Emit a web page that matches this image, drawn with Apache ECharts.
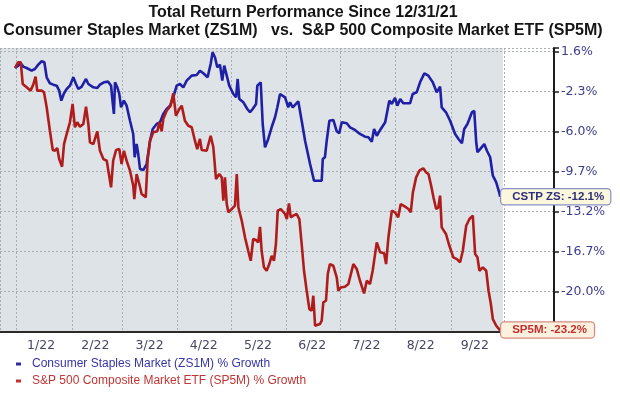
<!DOCTYPE html>
<html><head><meta charset="utf-8">
<script src="https://cdn.jsdelivr.net/npm/echarts@6/dist/echarts.min.js"></script>
<style>html,body{margin:0;padding:0;background:#fff}#c{width:620px;height:393px}</style>
</head><body><div id="c"></div>
<script>
const titleLines = ['Total Return Performance Since 12/31/21', 'Consumer Staples Market (ZS1M)   vs.  S&P 500 Composite Market ETF (SP5M)'];
const monthLabels = ['1/22','2/22','3/22','4/22','5/22','6/22','7/22','8/22','9/22'];
const yTickValues = [1.6,-2.0,-5.6,-9.2,-12.8,-16.4,-20.0];
const yTickLabels = ['1.6%','-2.3%','-6.0%','-9.7%','-13.2%','-16.7%','-20.0%'];
const seriesNames = ['Consumer Staples Market (ZS1M) % Growth','S&P 500 Composite Market ETF (SP5M) % Growth'];
const endLabels = ['CSTP ZS: -12.1%','SP5M: -23.2%'];
// days since 12/31/21
const blueDays = [0.2,2.0,3.4,4.8,6.7,9.5,11.3,13.2,15.1,16.6,17.9,18.8,19.7,21.6,23.5,24.9,26.1,27.6,29.1,30.9,32.8,34.3,35.6,37.5,39.9,41.2,44.0,46.2,47.7,49.9,52.3,53.9,54.8,55.5,56.1,57.4,58.5,59.5,61.1,62.6,64.5,66.3,67.1,68.2,69.1,70.1,71.9,73.8,75.7,77.2,79.4,81.3,83.1,85.0,86.9,88.7,90.6,92.4,94.3,96.2,99.0,101.8,103.6,105.5,107.9,109.6,110.7,112.0,113.3,114.8,116.1,117.2,118.6,120.0,122.3,123.8,124.7,125.6,127.9,130.1,131.6,133.1,135.0,135.7,137.6,138.7,140.0,141.8,143.7,145.6,146.9,148.4,151.2,153.0,154.0,155.5,158.6,160.5,162.4,165.2,166.1,167.4,171.7,172.3,173.5,174.5,176.0,178.2,180.1,181.5,182.9,185.7,187.5,190.3,193.1,195.9,197.8,199.7,201.0,202.5,204.4,207.2,209.5,210.9,212.7,214.0,215.6,217.3,221.1,222.6,224.8,226.7,229.1,231.3,233.8,236.0,237.9,238.8,241.2,243.5,246.3,248.2,250.1,251.4,253.2,255.7,257.0,258.1,258.8,260.3,262.6,264.1,265.9,267.4,269.3,271.1,271.5];
const blueVals = [0.13,0.34,0.55,0.25,0.13,-0.11,0.04,0.43,0.74,0.65,-0.71,-0.56,-1.25,-1.37,-1.46,-1.91,-2.81,-2.15,-1.76,-1.46,-0.71,-1.31,-1.76,-1.55,-0.86,-1.31,-1.61,-1.67,-1.37,-1.16,-1.10,-1.46,-2.96,-4.01,-1.16,-1.61,-2.21,-3.41,-2.81,-3.26,-4.62,-5.81,-7.91,-6.72,-7.62,-8.97,-9.06,-8.52,-6.42,-5.36,-4.91,-4.76,-4.01,-3.56,-3.26,-2.51,-1.46,-1.31,-1.61,-1.01,-0.56,-0.50,-0.11,-0.35,-0.71,0.49,1.55,1.10,0.19,0.43,-1.01,0.34,-0.56,-1.46,-2.21,-2.51,-0.86,-2.66,-2.96,-3.56,-3.86,-3.56,-3.11,-1.46,-1.16,-4.91,-7.01,-6.26,-5.21,-4.31,-3.41,-2.21,-2.51,-3.41,-2.96,-3.41,-2.87,-4.62,-6.42,-8.52,-9.12,-10.02,-10.02,-8.07,-7.91,-6.42,-4.62,-4.55,-5.57,-5.75,-4.76,-4.85,-5.21,-5.45,-5.81,-6.06,-6.11,-6.51,-5.36,-5.97,-5.45,-4.76,-2.81,-3.11,-2.57,-3.26,-2.66,-3.05,-3.05,-2.21,-2.06,-1.16,-0.35,-0.56,-1.16,-2.06,-1.55,-3.41,-3.86,-4.62,-5.81,-6.26,-6.65,-5.36,-4.91,-3.86,-3.72,-6.56,-7.46,-7.17,-6.72,-7.32,-7.91,-9.57,-10.17,-11.16,-11.46];
const redDays = [0.2,2.0,3.4,4.5,6.7,8.9,10.4,11.7,12.6,15.1,16.4,17.9,19.7,21.3,22.5,23.8,24.9,26.5,27.6,29.1,30.9,32.4,33.7,35.0,36.5,38.4,39.9,41.2,42.1,44.0,46.2,47.7,49.6,51.5,52.7,53.9,55.1,56.7,58.5,59.8,61.1,62.6,64.5,66.3,66.9,68.2,69.7,71.0,73.3,74.4,75.7,77.5,79.8,80.9,82.2,83.1,85.0,87.2,88.7,90.2,92.1,93.4,95.2,97.1,99.0,100.8,102.1,103.6,104.6,107.4,108.3,109.6,111.1,112.6,114.4,115.8,116.7,117.6,118.6,119.5,121.4,123.2,124.2,125.1,127.0,128.8,130.6,132.0,133.4,134.9,136.2,137.2,138.1,139.4,140.9,142.4,143.7,145.0,146.1,147.1,148.8,151.2,152.2,153.4,154.4,155.8,157.7,159.2,160.5,161.8,163.3,164.8,166.1,167.0,168.0,170.7,171.7,172.6,174.1,175.1,176.3,178.2,180.1,181.0,182.3,184.7,186.6,189.4,191.3,193.1,195.4,196.9,198.7,200.2,202.5,204.4,206.6,207.7,209.0,210.9,212.7,214.5,215.9,218.3,220.2,221.5,222.7,224.5,226.3,228.5,230.0,231.4,232.7,234.2,235.7,236.9,237.9,238.8,241.2,243.1,245.3,247.3,249.1,250.6,252.5,254.3,256.2,257.5,258.8,259.9,261.8,263.7,265.0,266.3,267.4,269.3,271.1,271.5];
const redVals = [0.13,0.65,0.65,-1.31,-1.61,-1.91,-1.37,-0.65,-1.91,-1.91,-2.06,-3.41,-5.52,-7.26,-7.32,-7.08,-8.07,-8.76,-6.72,-5.81,-4.76,-3.11,-5.21,-4.76,-5.16,-4.91,-3.35,-4.91,-6.56,-6.72,-5.57,-7.32,-8.07,-8.22,-9.42,-10.62,-8.22,-7.26,-7.17,-8.52,-7.32,-8.22,-9.12,-10.47,-11.67,-9.42,-10.32,-11.22,-11.52,-8.07,-6.42,-5.66,-5.57,-4.76,-5.57,-4.46,-3.72,-3.26,-2.15,-4.17,-3.56,-3.26,-4.62,-5.07,-5.21,-6.42,-7.17,-6.26,-7.26,-7.32,-7.26,-5.97,-7.01,-9.87,-9.42,-9.72,-11.82,-9.72,-12.12,-12.87,-12.57,-12.27,-9.42,-12.42,-13.63,-15.12,-16.33,-17.23,-15.27,-15.36,-15.57,-14.17,-16.33,-17.82,-18.13,-17.53,-16.78,-17.23,-15.72,-12.72,-12.57,-13.02,-13.47,-12.06,-13.32,-13.17,-13.02,-13.47,-15.72,-18.13,-19.93,-21.58,-21.73,-20.38,-23.08,-22.93,-22.63,-20.98,-20.83,-18.43,-17.53,-17.68,-18.72,-19.93,-19.63,-19.57,-19.33,-17.53,-17.98,-19.03,-20.17,-19.03,-19.33,-18.13,-15.57,-16.47,-16.56,-17.53,-15.12,-12.72,-12.87,-13.32,-12.12,-12.36,-12.57,-12.87,-11.07,-9.72,-9.12,-8.90,-9.26,-9.42,-10.32,-11.52,-12.57,-12.42,-11.37,-14.22,-14.82,-15.88,-16.92,-17.08,-17.37,-16.33,-14.08,-13.47,-13.17,-16.63,-16.92,-18.13,-17.82,-18.13,-19.93,-21.13,-22.48,-23.08,-23.43,-23.47];

const DAY = 86400000;
const base = new Date(2021, 11, 31).getTime();
const toT = d => base + Math.round(d * DAY);
const xMin = toT(-8.2), xMax = toT(301.6), shadeEnd = toT(273);

const chart = echarts.init(document.getElementById('c'), null, {renderer: 'canvas'});
chart.setOption({
  animation: false,
  backgroundColor: '#ffffff',
  title: {
    text: titleLines.join('\n'),
    left: 303, top: 3.5, textAlign: 'center', padding: 0,
    textStyle: {fontFamily: 'Liberation Sans', fontSize: 16, fontWeight: 'bold', color: '#151515', lineHeight: 18}
  },
  legend: {
    orient: 'vertical', left: 16, top: 357, padding: 0, itemWidth: 5, itemHeight: 3, itemGap: 3, icon: 'rect',
    textStyle: {fontFamily: 'Liberation Sans', fontSize: 12, lineHeight: 14, padding: [0, 0, 0, 6]},
    data: [
      {name: seriesNames[0], textStyle: {color: '#3535a8'}},
      {name: seriesNames[1], textStyle: {color: '#c03434'}}
    ]
  },
  grid: [
    {left: 0, right: 66, top: 48, bottom: 61.5},
    {left: 14, width: 488, top: 331, height: 1}
  ],
  xAxis: [
    {
      type: 'time', gridIndex: 0, min: xMin, max: xMax,
      splitNumber: 10, minInterval: 28 * DAY, maxInterval: 31 * DAY,
      axisLine: {show: true, onZero: false, lineStyle: {color: '#2a2a2a', width: 2}},
      axisTick: {show: false}, axisLabel: {show: false},
      splitLine: {show: true, lineStyle: {color: '#a9aeb2', type: [2, 2], width: 1}}
    },
    {
      type: 'category', gridIndex: 1, data: monthLabels, boundaryGap: true,
      axisLine: {show: false}, axisTick: {show: false}, splitLine: {show: false},
      axisLabel: {margin: 7, color: '#474768', fontFamily: 'DejaVu Sans', fontSize: 12.5, interval: 0}
    }
  ],
  yAxis: [
    {
      type: 'value', gridIndex: 0, position: 'right', min: -23.6, max: 1.93, interval: 3.6,
      axisLine: {show: true, onZero: false, lineStyle: {color: '#1e1e1e', width: 2}},
      axisTick: {show: true, length: 5, lineStyle: {color: '#1e1e1e', width: 1.5}},
      axisLabel: {
        margin: 7, color: '#3d3d8f', fontFamily: 'DejaVu Sans', fontSize: 12.5,
        formatter: v => {
          const k = yTickValues.findIndex(t => Math.abs(t - v) < 0.01);
          return k >= 0 ? yTickLabels[k] : '';
        }
      },
      splitLine: {show: true, lineStyle: {color: '#a9aeb2', type: [2, 2], width: 1}}
    },
    {type: 'value', gridIndex: 1, show: false}
  ],
  series: [
    {
      name: '', type: 'line', xAxisIndex: 0, yAxisIndex: 0, data: [], silent: true,
      markArea: {silent: true, z: -1, itemStyle: {color: '#dde3e6', opacity: 1}, data: [[{xAxis: xMin}, {xAxis: shadeEnd}]]}
    },
    {
      name: seriesNames[0], type: 'line', xAxisIndex: 0, yAxisIndex: 0, z: 3,
      data: blueDays.map((d, i) => [toT(d), blueVals[i]]),
      showSymbol: false, symbol: 'none',
      lineStyle: {color: '#2020a6', width: 2.6}, itemStyle: {color: '#2c2ca8'},
      endLabel: {
        show: true, formatter: endLabels[0], distance: 1,
        fontFamily: 'Liberation Sans', fontSize: 11.5, fontWeight: 'bold', color: '#2c2f7a',
        backgroundColor: '#fbf7dc', borderColor: '#8a90c4', borderWidth: 1.2, borderRadius: 3,
        padding: [2, 6, 1, 11]
      }
    },
    {
      name: seriesNames[1], type: 'line', xAxisIndex: 0, yAxisIndex: 0, z: 3,
      data: redDays.map((d, i) => [toT(d), redVals[i]]),
      showSymbol: false, symbol: 'none',
      lineStyle: {color: '#b01c1c', width: 2.6}, itemStyle: {color: '#c03030'},
      endLabel: {
        show: true, formatter: endLabels[1], distance: 1,
        fontFamily: 'Liberation Sans', fontSize: 11.5, fontWeight: 'bold', color: '#c3302c',
        backgroundColor: '#fcf1df', borderColor: '#d48a80', borderWidth: 1.2, borderRadius: 3,
        padding: [2, 7, 1, 11]
      }
    }
  ]
});
</script></body></html>
